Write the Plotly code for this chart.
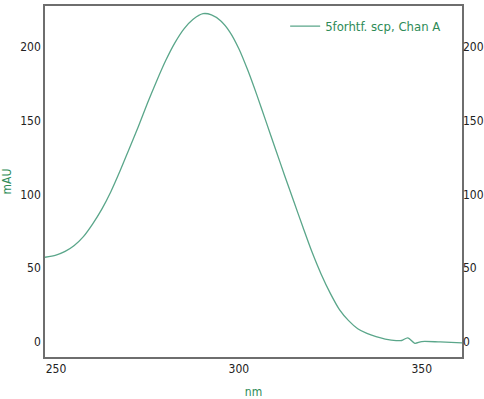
import plotly.graph_objects as go

wavelength_nm = [247.0, 250.0, 252.5, 255.0, 257.5, 260.0, 262.5, 265.0, 267.5, 270.0,
                 272.5, 275.0, 277.5, 280.0, 282.5, 285.0, 287.5, 290.2, 292.5, 295.0,
                 297.5, 300.0, 302.5, 305.0, 307.5, 310.0, 312.5, 315.0, 317.5, 320.0,
                 322.5, 325.0, 327.5, 330.0, 332.5, 335.0, 337.5, 340.0, 343.0, 344.5,
                 346.2, 348.1, 350.0, 355.0, 361.0]
absorbance_mau = [57.5, 59.0, 61.5, 65.5, 71.5, 80.0, 90.0, 102.0, 116.0, 131.0,
                  146.0, 162.0, 177.0, 191.0, 203.0, 212.5, 219.0, 222.8, 222.0, 218.0,
                  210.5, 199.0, 184.0, 167.0, 149.0, 131.0, 113.0, 95.5, 78.0, 61.0,
                  46.0, 33.0, 22.0, 14.5, 9.0, 5.8, 3.6, 2.0, 0.9, 1.0,
                  2.8, -0.9, 0.3, 0.0, -0.6]
series_name = "5forhtf. scp, Chan A"
y_ticks = [0, 50, 100, 150, 200]
x_ticks = [250, 300, 350]

line_color = "#5aa68a"
label_green = "#2e8b57"
axis_grey = "#6e6e6e"
font_family = "Liberation Sans Narrow, DejaVu Sans Condensed, sans-serif"

fig = go.Figure()
fig.add_trace(go.Scatter(x=wavelength_nm, y=absorbance_mau, mode="lines",
                         name=series_name,
                         line=dict(color=line_color, width=1.3, shape="spline", smoothing=0.8)))
fig.add_trace(go.Scatter(x=[wavelength_nm[0]], y=[absorbance_mau[0]], mode="lines",
                         yaxis="y2", showlegend=False, hoverinfo="skip",
                         line=dict(color="rgba(0,0,0,0)")))

fig.update_layout(
    width=484, height=399,
    margin=dict(l=45, r=22, t=6, b=42),
    paper_bgcolor="white", plot_bgcolor="white",
    font=dict(family=font_family, size=12, color="#222"),
    showlegend=True,
    legend=dict(x=0.962, xanchor="right", y=0.985, yanchor="top",
                bgcolor="rgba(0,0,0,0)",
                font=dict(family=font_family, color=label_green, size=13)),
    xaxis=dict(range=[247, 361], tickvals=x_ticks, showgrid=False, zeroline=False,
               showline=True, linecolor=axis_grey, linewidth=1.5, mirror=True,
               ticks="", automargin=False,
               tickfont=dict(family=font_family, size=12),
               title=dict(text="nm", font=dict(family=font_family, color=label_green, size=12),
                          standoff=12)),
    yaxis=dict(range=[-10.2, 228], tickvals=y_ticks, showgrid=False, zeroline=False,
               showline=True, linecolor=axis_grey, linewidth=1.5, mirror=True,
               ticks="", automargin=False, ticklabelstandoff=0,
               tickfont=dict(family=font_family, size=12),
               title=dict(text="mAU", font=dict(family=font_family, color=label_green, size=12),
                          standoff=10)),
    yaxis2=dict(range=[-10.2, 228], tickvals=y_ticks, overlaying="y", side="right",
                showgrid=False, zeroline=False, showline=False, ticks="", automargin=False,
                tickfont=dict(family=font_family, size=12)),
)

fig.write_html("out.html")
